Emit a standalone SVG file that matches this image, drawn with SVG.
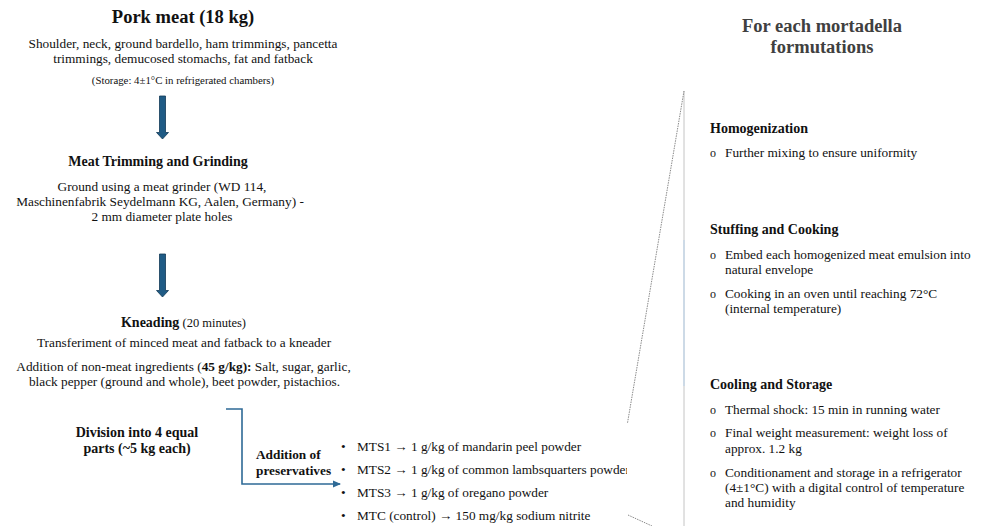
<svg xmlns="http://www.w3.org/2000/svg" width="981" height="526" viewBox="0 0 981 526">
<style>
text{font-family:"Liberation Serif","Times New Roman",serif;fill:#111;}
.t{font-size:18.5px;font-weight:bold;}
.rt{font-size:18.5px;font-weight:bold;fill:#404040;}
.h{font-size:14px;font-weight:bold;}
.b{font-size:13.3px;}
.s{font-size:12.5px;}
.c{text-anchor:middle;}
.bl{font-size:12px;}
.arr{fill:#1f5b85;stroke:#123a57;stroke-width:0.8;}
.conn{fill:none;stroke:#2e6a96;stroke-width:1.6;}
</style>
<defs>
<marker id="ah" markerWidth="8" markerHeight="8" refX="7" refY="4" orient="auto" markerUnits="userSpaceOnUse">
<path d="M0,0.5 L8,4 L0,7.5 Z" fill="#2e6a96"/>
</marker>
<clipPath id="cl"><rect x="0" y="0" width="627" height="526"/></clipPath>
</defs>
<rect width="981" height="526" fill="#fff"/>

<g id="connectors">
<path class="arr" d="M159.5,96 H165.5 V132.5 H168.5 L162.5,139 L156.5,132.5 H159.5 Z"/>
<path class="arr" d="M159.5,254 H165.5 V290.5 H168.5 L162.5,297 L156.5,290.5 H159.5 Z"/>
<path class="conn" d="M226,409 H242 V484 H340" marker-end="url(#ah)"/>
<line x1="684" y1="91" x2="684" y2="526" stroke="#c4c4c4" stroke-width="1"/>
<line x1="684" y1="240" x2="684" y2="386" stroke="#b9d3ec" stroke-width="1"/>
<line x1="684" y1="91" x2="627.5" y2="423" stroke="#8a8a8a" stroke-width="1" stroke-dasharray="1.5,1"/>
<line x1="628" y1="515" x2="652" y2="526" stroke="#8a8a8a" stroke-width="1" stroke-dasharray="1.5,1"/>
</g>

<g id="pork-meat">
<text class="t c" x="183" y="23">Pork meat (18 kg)</text>
<text class="b c" x="183" y="48">Shoulder, neck, ground bardello, ham trimmings, pancetta</text>
<text class="b c" x="183" y="63">trimmings, demucosed stomachs, fat and fatback</text>
<text class="c" x="183" y="84" font-size="10.8px">(Storage: 4±1°C in refrigerated chambers)</text>
</g>

<g id="trimming-grinding">
<text class="h c" x="158" y="166">Meat Trimming and Grinding</text>
<text class="b c" x="162" y="191">Ground using a meat grinder (WD 114,</text>
<text class="b c" x="160" y="206">Maschinenfabrik Seydelmann KG, Aalen, Germany) -</text>
<text class="b c" x="162" y="221">2 mm diameter plate holes</text>
</g>

<g id="kneading">
<text class="c" x="183.5" y="327"><tspan class="h">Kneading</tspan><tspan class="s"> (20 minutes)</tspan></text>
<text class="b c" x="184" y="347">Transferiment of minced meat and fatback to a kneader</text>
<text class="b c" x="183.5" y="371">Addition of non-meat ingredients (<tspan font-weight="bold">45 g/kg):</tspan> Salt, sugar, garlic,</text>
<text class="b c" x="184.5" y="386">black pepper (ground and whole), beet powder, pistachios.</text>
</g>

<g id="division">
<text class="h c" x="137" y="437">Division into 4 equal</text>
<text class="h c" x="137" y="453">parts (~5 kg each)</text>
</g>

<g id="preservatives">
<text class="b" x="256" y="459" font-weight="bold">Addition of</text>
<text class="b" x="256" y="475" font-weight="bold">preservatives</text>
</g>

<g id="formulations-list">
<text class="b" x="341" y="451">•</text>
<text class="b" x="357" y="451">MTS1 → 1 g/kg of mandarin peel powder</text>
<text class="b" x="341" y="474">•</text>
<text class="b" x="357" y="474" clip-path="url(#cl)">MTS2 → 1 g/kg of common lambsquarters powder</text>
<text class="b" x="341" y="497">•</text>
<text class="b" x="357" y="497">MTS3 → 1 g/kg of oregano powder</text>
<text class="b" x="341" y="520">•</text>
<text class="b" x="357" y="520">MTC (control) → 150 mg/kg sodium nitrite</text>
</g>

<g id="title-right">
<text class="rt c" x="822" y="32">For each mortadella</text>
<text class="rt c" x="822" y="53">formutations</text>
</g>

<g id="homogenization">
<text class="h" x="710" y="133">Homogenization</text>
<text class="bl" x="710" y="157">o</text>
<text class="b" x="725" y="157">Further mixing to ensure uniformity</text>
</g>

<g id="stuffing-cooking">
<text class="h" x="710" y="234">Stuffing and Cooking</text>
<text class="bl" x="710" y="259">o</text>
<text class="b" x="725" y="259">Embed each homogenized meat emulsion into</text>
<text class="b" x="725" y="274">natural envelope</text>
<text class="bl" x="710" y="298">o</text>
<text class="b" x="725" y="298">Cooking in an oven until reaching 72°C</text>
<text class="b" x="725" y="313">(internal temperature)</text>
</g>

<g id="cooling-storage">
<text class="h" x="710" y="389">Cooling and Storage</text>
<text class="bl" x="710" y="414">o</text>
<text class="b" x="725" y="414">Thermal shock: 15 min in running water</text>
<text class="bl" x="710" y="437">o</text>
<text class="b" x="725" y="437">Final weight measurement: weight loss of</text>
<text class="b" x="725" y="453">approx. 1.2 kg</text>
<text class="bl" x="710" y="477">o</text>
<text class="b" x="725" y="477">Conditionament and storage in a refrigerator</text>
<text class="b" x="725" y="492">(4±1°C) with a digital control of temperature</text>
<text class="b" x="725" y="507">and humidity</text>
</g>
</svg>
